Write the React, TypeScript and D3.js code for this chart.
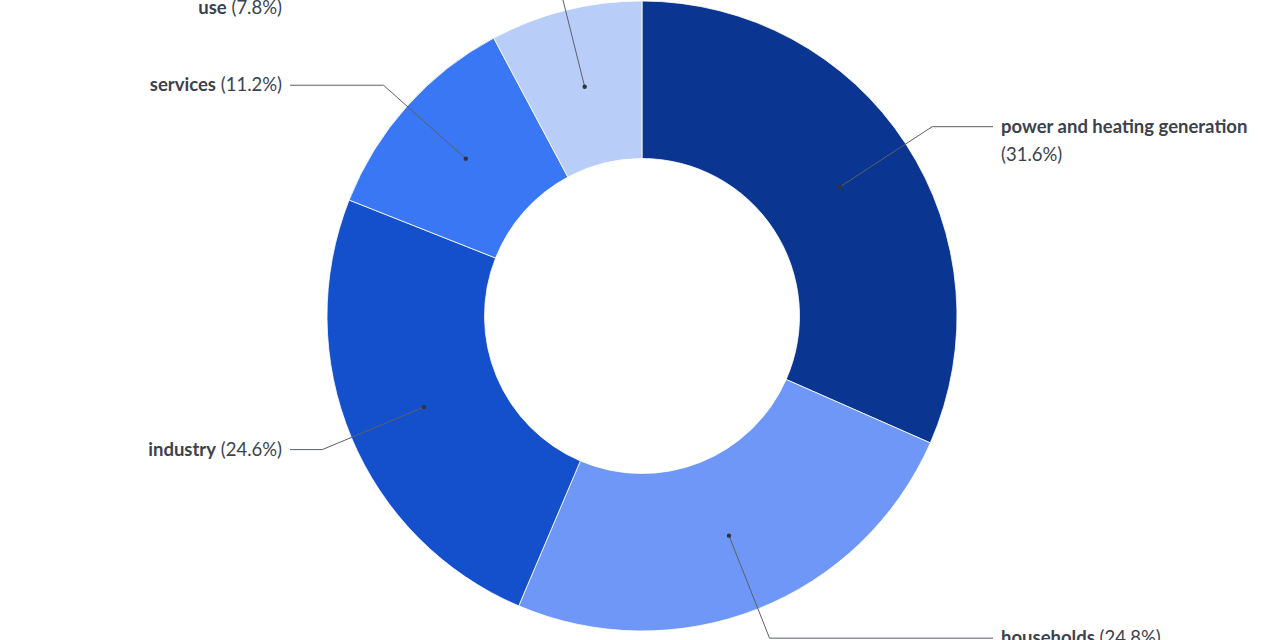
import React from "react";
import * as d3 from "d3";

// Share of emissions by sector, clockwise from 12 o'clock
const sectors = [
  "power and heating generation",
  "households",
  "industry",
  "services",
  "other energy use",
];
const nameLines = [
  ["power and heating generation"],
  ["households"],
  ["industry"],
  ["services"],
  ["other energy", "use"],
];
const shares = [31.6, 24.8, 24.6, 11.2, 7.8];
const colors = ["#0a3591", "#6f97f7", "#1450cc", "#3a77f5", "#b8cdf8"];
// Whether the percentage goes on its own line under the name
const pctOnNewLine = [true, false, false, false, false];

const WIDTH = 1280;
const HEIGHT = 640;
const FONT = "'Source Sans Pro', Lato, 'Noto Sans', sans-serif";
const TEXT_COLOR = "#3b424d";
const LINE_COLOR = "#5a5f66";

type Datum = { name: string; value: number; i: number };

export default function App() {
  const cx = 642;
  const cy = 316;
  const outer = 315;
  const inner = outer * 0.5;
  const elbowR = outer * 1.1;
  const lineHeight = 28;

  const data: Datum[] = sectors.map((s, i) => ({ name: s, value: shares[i], i }));
  const pie = d3
    .pie<Datum>()
    .value((d) => d.value)
    .sort(null)
    .startAngle(0)
    .endAngle(2 * Math.PI);
  const arcs = pie(data);
  const arcGen = d3.arc<d3.PieArcDatum<Datum>>().innerRadius(inner).outerRadius(outer);

  return (
    <svg
      width={WIDTH}
      height={HEIGHT}
      style={{ position: "absolute", left: 0, top: 0, background: "#fff" }}
    >
      <g transform={`translate(${cx},${cy})`}>
        {arcs.map((a) => (
          <path
            key={a.data.name}
            d={arcGen(a) || ""}
            fill={colors[a.data.i]}
            stroke="#ffffff"
            strokeWidth={0.8}
          />
        ))}
        {arcs.map((a) => {
          const i = a.data.i;
          const mid = (a.startAngle + a.endAngle) / 2;
          const [dx, dy] = arcGen.centroid(a);
          const ex = elbowR * Math.sin(mid);
          const ey = -elbowR * Math.cos(mid);
          const right = mid < Math.PI;
          const lineEnd = right ? 993 - cx : 290 - cx;
          const textX = right ? 1001 - cx : 282 - cx;
          const anchor = right ? "start" : "end";
          const lines = nameLines[i];
          // the last name line carries the percentage unless it wraps below
          const rows: { bold: string; normal: string }[] = lines.map((l, k) => ({
            bold: l,
            normal: !pctOnNewLine[i] && k === lines.length - 1 ? ` (${shares[i]}%)` : "",
          }));
          if (pctOnNewLine[i]) rows.push({ bold: "", normal: `(${shares[i]}%)` });
          const firstY = ey - 1;
          return (
            <g key={`lbl-${a.data.name}`}>
              <polyline
                points={`${dx},${dy} ${ex},${ey} ${lineEnd},${ey}`}
                fill="none"
                stroke={LINE_COLOR}
                strokeWidth={1}
              />
              <circle cx={dx} cy={dy} r={2.2} fill="#333" />
              <text
                x={textX}
                textAnchor={anchor}
                fontFamily={FONT}
                fontSize={18.5}
                fill={TEXT_COLOR}
                dominantBaseline="central"
              >
                {rows.map((r, k) => (
                  <tspan key={k} x={textX} y={firstY + k * lineHeight}>
                    {r.bold && <tspan fontWeight={700}>{r.bold}</tspan>}
                    {r.normal && <tspan fontWeight={400}>{r.normal}</tspan>}
                  </tspan>
                ))}
              </text>
            </g>
          );
        })}
      </g>
    </svg>
  );
}
